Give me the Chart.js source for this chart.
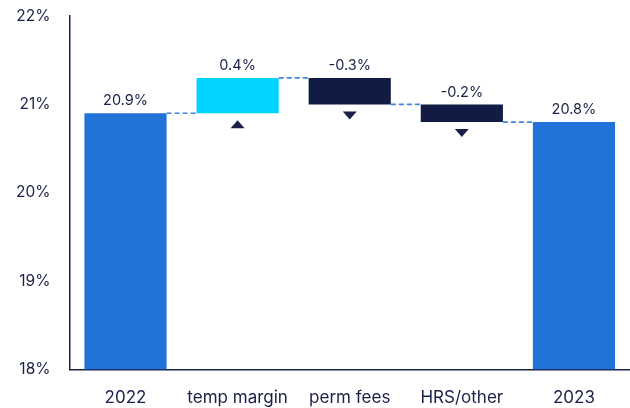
<!DOCTYPE html>
<html><head><meta charset="utf-8">
<script src="https://cdn.jsdelivr.net/npm/chart.js@4/dist/chart.umd.min.js"></script>
<style>html,body{margin:0;padding:0;background:#fff;overflow:hidden}canvas{display:block}</style>
</head><body><canvas id="c" width="630" height="408" style="width:630px;height:408px"></canvas>
<script>
const categories = ['2022', 'temp margin', 'perm fees', 'HRS/other', '2023'];
const startValues = [18, 20.9, 21.3, 21.0, 18];
const endValues = [20.9, 21.3, 21.0, 20.8, 20.8];
const valueLabels = ['20.9%', '0.4%', '-0.3%', '-0.2%', '20.8%'];
const barColors = ['#2273d7', '#00d3ff', '#121b44', '#121b44', '#2273d7'];
const arrowDir = [0, 1, -1, -1, 0];
const yTicks = [18, 19, 20, 21, 22];

const NAVY = '#1b2048';
const FONT = 'Inter, "Noto Sans", sans-serif';

const extras = {
  id: 'extras',
  afterDatasetsDraw(chart) {
    const ctx = chart.ctx, meta = chart.getDatasetMeta(0), y = chart.scales.y;
    ctx.save();
    ctx.strokeStyle = '#3d86e3'; ctx.lineWidth = 1.7; ctx.setLineDash([5, 3]);
    for (let i = 0; i < meta.data.length - 1; i++) {
      const a = meta.data[i], b = meta.data[i + 1];
      const py = y.getPixelForValue(endValues[i]);
      ctx.beginPath();
      ctx.moveTo(a.x + a.width / 2, py);
      ctx.lineTo(b.x - b.width / 2, py);
      ctx.stroke();
    }
    ctx.setLineDash([]);
    ctx.fillStyle = NAVY; ctx.font = '14.5px ' + FONT; ctx.textAlign = 'center'; ctx.textBaseline = 'bottom';
    meta.data.forEach((bar, i) => {
      const top = y.getPixelForValue(Math.max(startValues[i], endValues[i]));
      ctx.fillText(valueLabels[i], bar.x, top - 5);
      const d = arrowDir[i];
      if (d !== 0) {
        const bot = y.getPixelForValue(Math.min(startValues[i], endValues[i]));
        const ty = bot + 7, h = 8, w = 7;
        ctx.beginPath();
        if (d > 0) {
          ctx.moveTo(bar.x - w, ty + h); ctx.lineTo(bar.x + w, ty + h); ctx.lineTo(bar.x, ty);
        } else {
          ctx.moveTo(bar.x - w, ty); ctx.lineTo(bar.x + w, ty); ctx.lineTo(bar.x, ty + h);
        }
        ctx.closePath(); ctx.fill();
      }
    });
    ctx.restore();
  }
};

new Chart(document.getElementById('c'), {
  type: 'bar',
  data: {
    labels: categories,
    datasets: [{
      data: categories.map((c, i) => [startValues[i], endValues[i]]),
      backgroundColor: barColors,
      borderWidth: 0,
      borderSkipped: false,
      categoryPercentage: 1,
      barPercentage: 0.733
    }]
  },
  options: {
    responsive: false, animation: false, devicePixelRatio: 1,
    layout: { padding: { top: 16, left: -3, right: -5, bottom: -18 } },
    plugins: { legend: { display: false }, tooltip: { enabled: false } },
    scales: {
      x: {
        grid: { display: false, drawTicks: false },
        border: { display: true, color: NAVY, width: 1.5 },
        ticks: { color: NAVY, font: { family: FONT, size: 17 }, padding: 18 }
      },
      y: {
        min: 18, max: 22,
        afterBuildTicks: (ax) => { ax.ticks = yTicks.map(v => ({ value: v })); },
        afterFit: (ax) => { ax.paddingTop = 0; ax.paddingBottom = 0; },
        grid: { display: false, drawTicks: false },
        border: { display: true, color: NAVY, width: 1.5 },
        ticks: { color: NAVY, font: { family: FONT, size: 15.5 }, padding: 19, callback: v => v + '%' }
      }
    }
  },
  plugins: [extras]
});
</script></body></html>
